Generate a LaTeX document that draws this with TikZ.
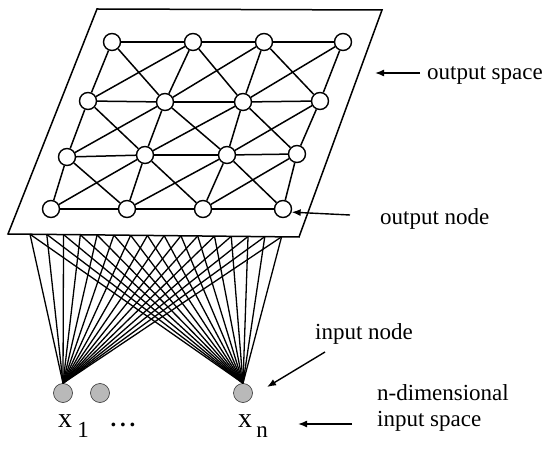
\documentclass[tikz,border=0pt]{standalone}
\usepackage{fontspec}
\setmainfont{Liberation Serif}
\usetikzlibrary{arrows.meta,calc}

\begin{document}
\begin{tikzpicture}[x=1bp,y=-1bp,
	onode/.style={circle,draw,line width=1.4bp,fill=white,minimum size=17bp,inner sep=0pt},
	inode/.style={circle,draw=gray!40!black,fill=gray!55,line width=0.6bp,minimum size=19bp,inner sep=0pt},
	link/.style={line width=1.5bp},
	fanline/.style={line width=1.3bp},
	pointer/.style={arrows={-Latex[length=9bp,width=7bp]},line width=1.4bp},
	lbl/.style={inner sep=0pt,font=\fontsize{23bp}{26bp}\selectfont}]
			\useasboundingbox (0,0) rectangle (545,459);
			
			% Plan de sortie
			\coordinate (tl) at (97,9);
			\coordinate (tr) at (382,10);
			\coordinate (br) at (299,237);
			\coordinate (bl) at (8,234);
			\draw[line width=1.5bp] (tl) -- (tr) -- (br) -- (bl) -- cycle;
			
			% Noeuds de sortie
			\foreach \r/\c/\px/\py in {1/1/112/42, 1/2/193/42, 1/3/264/42, 1/4/343/42,
				2/1/88/101, 2/2/165/102, 2/3/243/102, 2/4/320/101,
				3/1/67/157, 3/2/145/155, 3/3/227/155, 3/4/297/154,
				4/1/51/209, 4/2/127/209, 4/3/203/209, 4/4/283/209}
				\node[onode] (o-\r-\c) at (\px,\py) {};
			
			% Liens de la grille
			\foreach \r in {1,...,4}
				\foreach \c in {1,2,3} {
					\pgfmathtruncatemacro{\d}{\c+1}
					\draw[link] (o-\r-\c) -- (o-\r-\d);
				}
			\foreach \r in {1,2,3}
				\foreach \c in {1,...,4} {
					\pgfmathtruncatemacro{\s}{\r+1}
					\draw[link] (o-\r-\c) -- (o-\s-\c);
				}
			\foreach \r in {1,2,3}
				\foreach \c in {1,2,3} {
					\pgfmathtruncatemacro{\s}{\r+1}
					\pgfmathtruncatemacro{\d}{\c+1}
					\draw[link] (o-\r-\c) -- (o-\s-\d);
					\draw[link] (o-\r-\d) -- (o-\s-\c);
				}
			
			% Noeuds d'entree
			\node[inode] (in-1) at (63,393) {};
			\node[inode] (in-2) at (100,393) {};
			\node[inode] (in-n) at (243,393) {};
			
			% Connexions
			\foreach \k in {0,...,15} {
				\coordinate (b\k) at ($(bl)!{0.0756+\k*0.05763}!(br)$);
				\draw[fanline] (in-1.north) -- (b\k);
				\draw[fanline] (in-n.north) -- (b\k);
			}
			
			% Etiquettes x
			\node[inner sep=0pt,anchor=base,font=\fontsize{28bp}{28bp}\selectfont] (x-1) at (65,427) {x};
			\node[lbl,anchor=base] (s-1) at (83,437) {1};
			\node[lbl,anchor=base] (dots) at (123,426) {\textbf{.\,.\,.}};
			\node[inner sep=0pt,anchor=base,font=\fontsize{28bp}{28bp}\selectfont] (x-n) at (245,427) {x};
			\node[lbl,anchor=base] (s-n) at (262,437) {n};
			
			% Legendes
			\node[lbl,anchor=base west] (l-ospace) at (427,80) {output space};
			\node[lbl,anchor=base west] (l-onode) at (380,225) {output node};
			\node[lbl,anchor=base west] (l-inode) at (315,339) {input node};
			\node[lbl,anchor=base west,align=left] (l-ispace) at (377,426) {n-dimensional\\input space};
			
			\coordinate (a-ospace) at (420,73);
			\coordinate (t-ospace) at (375,73);
			\coordinate (a-onode) at (350,215);
			\coordinate (a-inode) at (325,352);
			\coordinate (t-inode) at (267,387);
			\coordinate (a-ispace) at (352,424);
			\coordinate (t-ispace) at (298,424);
			\draw[pointer] (a-ospace) -- (t-ospace);
			\draw[pointer] (a-onode) -- (o-4-4.-20);
			\draw[pointer] (a-inode) -- (t-inode);
			\draw[pointer] (a-ispace) -- (t-ispace);
		\end{tikzpicture}
\end{document}
